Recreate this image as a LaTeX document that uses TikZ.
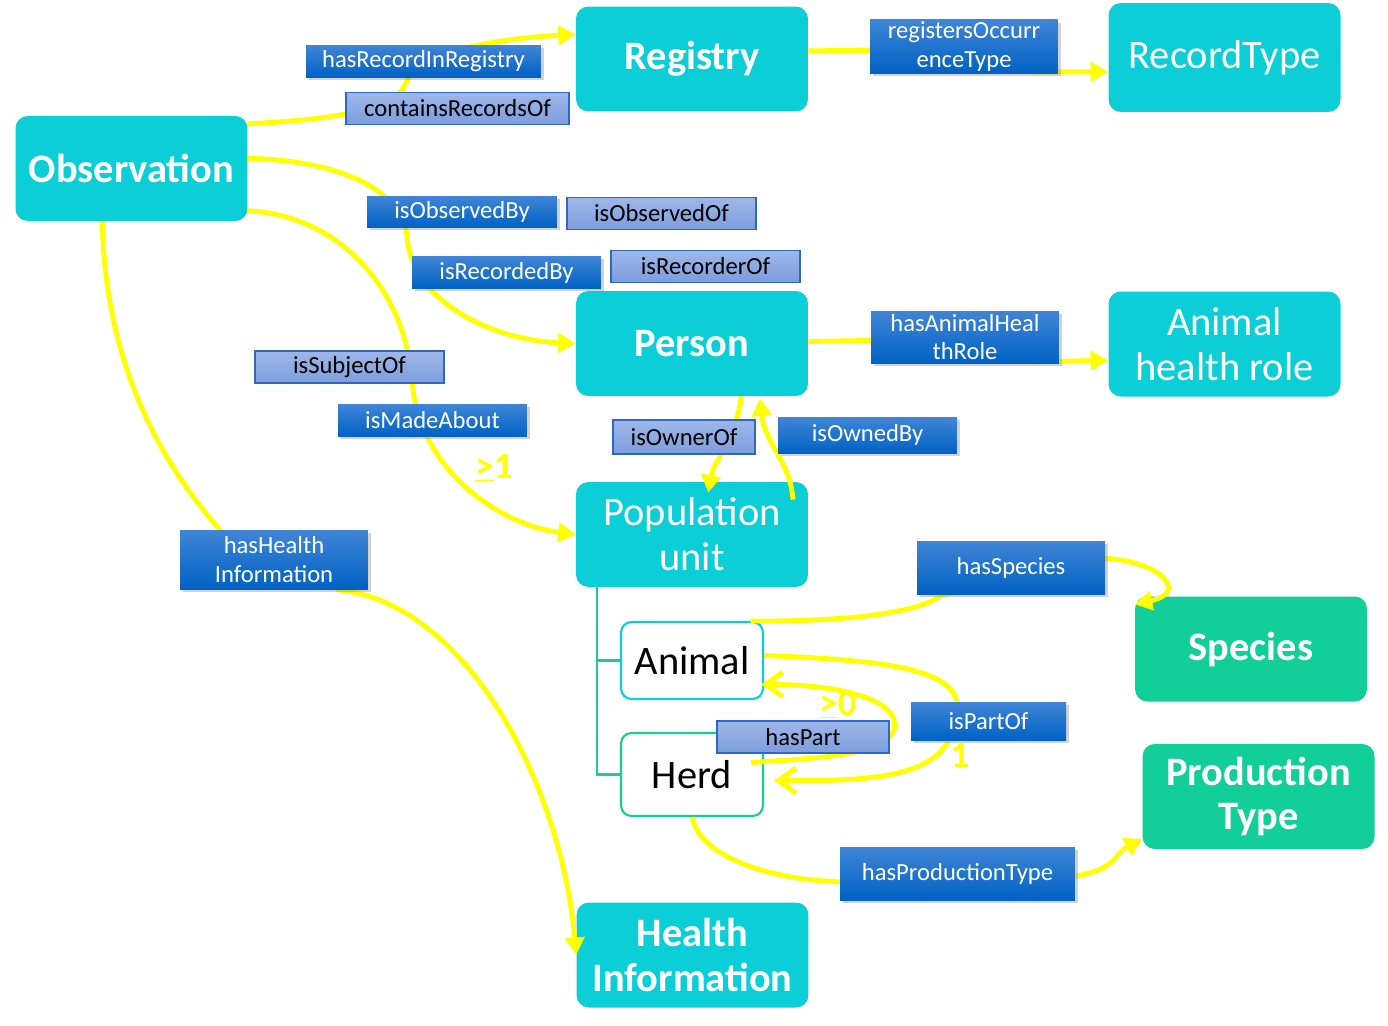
\documentclass[tikz,border=0pt]{standalone}
\usepackage{fontspec}
\setmainfont{Carlito}
\usetikzlibrary{positioning,calc,arrows.meta,shadows}

\definecolor{boxcyan}{RGB}{12,206,214}
\definecolor{boxgreen}{RGB}{18,206,152}
\definecolor{lblTop}{RGB}{64,133,214}
\definecolor{lblBot}{RGB}{0,98,196}
\definecolor{lltTop}{RGB}{158,183,233}
\definecolor{lltBot}{RGB}{124,157,220}
\definecolor{lltBorder}{RGB}{47,104,196}
\definecolor{hlyellow}{RGB}{255,255,0}
\definecolor{treegreen}{RGB}{32,200,160}

\tikzset{
    box/.style={rounded corners=7pt, fill=boxcyan, text=white, align=center,
        minimum width=4.64cm, minimum height=2.1cm, inner sep=2pt,
        font=\fontsize{23}{25.5}\selectfont},
    gbox/.style={box, fill=boxgreen},
    wbox/.style={rounded corners=6pt, fill=white, line width=1.2pt, text=black,
        minimum width=2.84cm, font=\fontsize{23}{26}\selectfont},
    dlabel/.style={top color=lblTop, bottom color=lblBot, text=white, align=center,
        inner sep=1pt, minimum height=0.64cm,
        drop shadow={opacity=0.35, shadow xshift=1.5pt, shadow yshift=-1.5pt},
        font=\fontsize{14}{16.4}\selectfont},
    llabel/.style={top color=lltTop, bottom color=lltBot, draw=lltBorder, line width=0.7pt,
        text=black, align=center, inner sep=1pt, minimum height=0.64cm,
        font=\fontsize{14}{16.4}\selectfont},
    link/.style={draw=hlyellow, line width=2.8pt},
    tip/.style={-{Triangle[length=10pt,width=11pt]}},
    barb/.style={-{Straight Barb[length=10pt,width=14pt]}},
    card/.style={text=hlyellow, font=\fontsize{21}{22}\selectfont\bfseries, inner sep=0pt},
    tree/.style={draw=treegreen, line width=1.2pt}
}

\begin{document}
\begin{tikzpicture}[x=0.02cm, y=-0.02cm]
    \useasboundingbox (0,0) rectangle (1388,1025);
    \fill[white] (0,0) rectangle (1388,1025);

    % classes
    \node[box, font=\fontsize{23}{25.5}\selectfont\bfseries] (reg) at (692,59) {Registry};
    \node[box, minimum height=2.18cm] (rtype) at (1224.5,57.5) {RecordType};
    \node[box, font=\fontsize{23}{25.5}\selectfont\bfseries] (obs) at (131.5,168.5) {Observation};
    \node[box, font=\fontsize{23}{25.5}\selectfont\bfseries] (pers) at (692,343.5) {Person};
    \node[box] (ahr) at (1224.5,344) {Animal\\health role};
    \node[box] (popu) at (692,534.5) {Population\\unit};
    \node[gbox, font=\fontsize{23}{25.5}\selectfont\bfseries] (species) at (1251,649) {Species};
    \node[gbox, font=\fontsize{23}{25}\selectfont\bfseries] (ptype) at (1258.5,796.5) {Production\\Type};
    \node[box, font=\fontsize{23}{25.5}\selectfont\bfseries] (hinfo) at (692.5,955) {Health\\Information};
    \node[wbox, draw=boxcyan, minimum height=1.54cm] (animal) at (692,660.5) {Animal};
    \node[wbox, draw=boxgreen, minimum height=1.66cm] (herd) at (692,774.5) {Herd};

    % subclasses of population unit
    \draw[tree] ($(popu.south west)+(21,0)$) |- (animal.west);
    \draw[tree] ($(popu.south west)+(21,0)$) |- (herd.west);

    % relations
    \draw[link, tip] (obs.21) .. controls (330,120) and (395,110) .. (405,85)
        .. controls (415,55) and (480,40) .. (reg.168);
    \draw[link, tip] (reg.4) -- (900,50) -- (1030,72) -- (rtype.187);
    \draw[link, tip] (obs.5.6) .. controls (330,160) and (400,185) .. (407,235)
        .. controls (410,300) and (490,340) .. (pers.west);
    \draw[link, tip] (obs.-20) .. controls (340,215) and (405,290) .. (412,380)
        .. controls (418,470) and (500,525) .. (popu.west);
    \draw[link, tip] (obs.-119) .. controls (105,350) and (150,450) .. (220,530) -- (340,590)
        .. controls (470,605) and (562,790) .. (hinfo.west);
    \draw[link, tip] (pers.1.7) -- (900,340) -- (1030,362) -- (ahr.188.8);
    \draw[link, tip] (pers.-47.6) .. controls (736,440) and (714,460) .. ($(popu.north)+(16,11)$);
    \draw[link, tip] ($(popu.north)+(101,18)$) .. controls (790,460) and (765,445) .. ($(pers.south)+(68,2)$);
    \draw[link, tip] (animal.34.5) .. controls (850,622) and (920,612) .. (940,596) -- (1100,558)
        .. controls (1160,560) and (1190,592) .. (species.159);
    \draw[link, barb] (animal.4.4) .. controls (880,660) and (955,668) .. (957,705) -- (950,738)
        .. controls (930,780) and (860,781) .. ($(herd.east)+(10,6)$);
    \draw[link, barb] ($(herd.east)+(-13,-12)$) .. controls (820,758) and (885,755) .. (894,730)
        .. controls (902,700) and (840,684) .. ($(animal.east)+(-3,24)$);
    \draw[link, tip] (herd.south) .. controls (700,860) and (780,882) .. (850,882) -- (1070,877)
        .. controls (1118,870) and (1112,855) .. (ptype.200);

    % relation labels
    \node[dlabel, minimum width=4.7cm] (lRecIn) at (423.5,61) {hasRecordInRegistry};
    \node[llabel, minimum width=4.46cm] (lContains) at (457.5,108.5) {containsRecordsOf};
    \node[dlabel, minimum width=3.76cm, minimum height=1.06cm] (lRegOcc) at (964,46.5) {registersOccurr\\enceType};
    \node[dlabel, minimum width=3.8cm, minimum height=0.62cm] (lObsBy) at (462,211.5) {isObservedBy};
    \node[llabel, minimum width=3.78cm] (lObsOf) at (661.5,213.5) {isObservedOf};
    \node[dlabel, minimum width=3.78cm] (lRecBy) at (506.5,272.5) {isRecordedBy};
    \node[llabel, minimum width=3.78cm] (lRecOf) at (705.5,266.5) {isRecorderOf};
    \node[dlabel, minimum width=3.76cm, minimum height=1.04cm] (lAHR) at (965,337) {hasAnimalHeal\\thRole};
    \node[llabel, minimum width=3.78cm] (lSubj) at (349.5,367) {isSubjectOf};
    \node[dlabel, minimum width=3.78cm] (lMade) at (432.5,420) {isMadeAbout};
    \node[llabel, minimum width=2.84cm, minimum height=0.68cm] (lOwnerOf) at (684,437) {isOwnerOf};
    \node[dlabel, minimum width=3.58cm, minimum height=0.72cm] (lOwnedBy) at (867.5,435) {isOwnedBy};
    \node[dlabel, minimum width=3.76cm, minimum height=1.18cm] (lHHI) at (274,559.5) {hasHealth\\Information};
    \node[dlabel, minimum width=3.76cm, minimum height=1.06cm] (lSpecies) at (1011,567.5) {hasSpecies};
    \node[dlabel, minimum width=3.1cm, minimum height=0.76cm] (lPartOf) at (988.5,721) {isPartOf};
    \node[llabel, minimum width=3.44cm] (lHasPart) at (803,737) {hasPart};
    \node[dlabel, minimum width=4.7cm, minimum height=1.06cm] (lProd) at (957.5,873.5) {hasProductionType};

    % cardinalities
    \node[card] (cMade) at (494,468) {\underline{>}1};
    \node[card] (cHasPart) at (838,705) {\underline{>}0};
    \node[card] (cPartOf) at (960,756) {1};
\end{tikzpicture}
\end{document}
